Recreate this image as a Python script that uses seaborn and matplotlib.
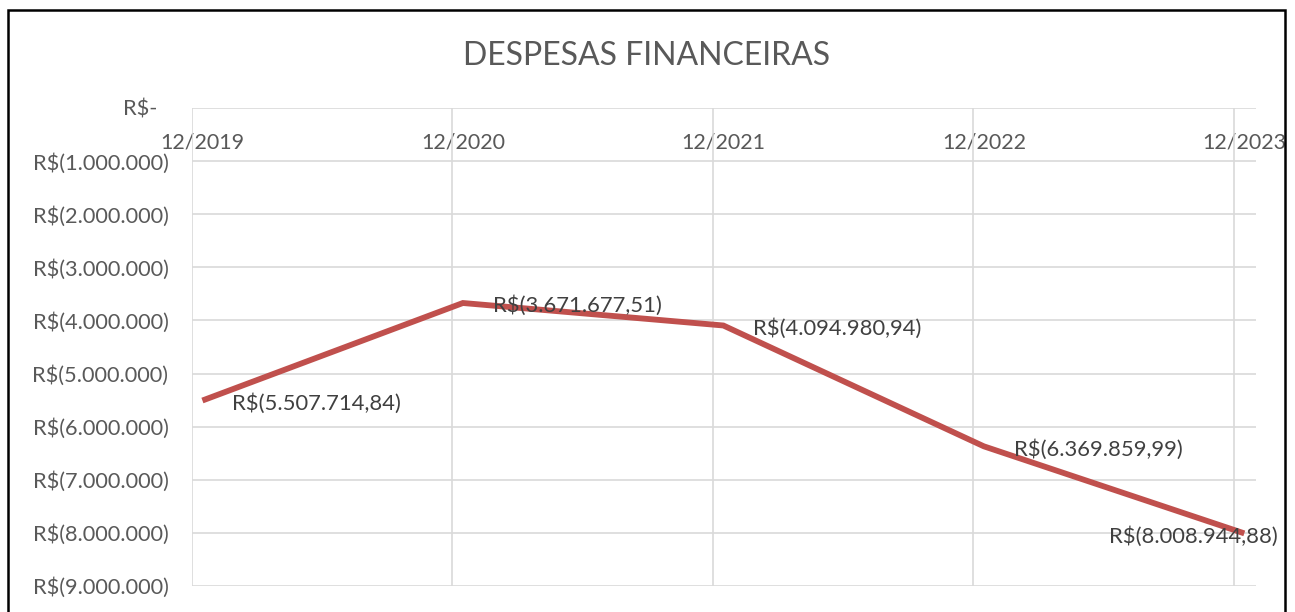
import matplotlib
matplotlib.use("Agg")
import matplotlib.pyplot as plt
import matplotlib.patches as mpatches
import seaborn as sns
import pandas as pd
import numpy as np
from matplotlib.ticker import FuncFormatter, FixedLocator

categories = ["12/2019", "12/2020", "12/2021", "12/2022", "12/2023"]
values = [-5507714.84, -3671677.51, -4094980.94, -6369859.99, -8008944.88]
title = "DESPESAS FINANCEIRAS"

sns.set_style("white")
plt.rcParams['font.family'] = ['Lato', 'DejaVu Sans']

def brl(v, decimals=2):
    if abs(v) < 0.5:
        return "R$-  "
    s = f"{abs(v):,.{decimals}f}"
    s = s.replace(",", "X").replace(".", ",").replace("X", ".")
    return f"R$({s})" if v < 0 else f"R${s}"

df = pd.DataFrame({"x": np.arange(len(categories)), "v": values})

fig = plt.figure(figsize=(12.95, 6.12), dpi=100)
ax = fig.add_axes([192/1295, 1-586/612, (1256-192)/1295, (586-108)/612])

sns.lineplot(data=df, x="x", y="v", ax=ax, color="#C0504D", linewidth=4.2,
             solid_joinstyle="miter", solid_capstyle="butt")

ax.set_xlim(-0.04, 4.045)
ax.set_ylim(-9_000_000, 0)

grid_c = "#D9D9D9"
ax.yaxis.set_major_locator(FixedLocator(np.arange(-9_000_000, 1, 1_000_000)))
ax.yaxis.set_major_formatter(FuncFormatter(lambda v, p: brl(v, 0)))
ax.grid(axis="y", color=grid_c, linewidth=1.2)
ax.set_axisbelow(True)

# vertical gridlines at category boundaries
ax.xaxis.set_minor_locator(FixedLocator(np.arange(len(categories)) - 0.04))
ax.grid(axis="x", which="minor", color=grid_c, linewidth=1.2)

ax.xaxis.tick_top()
ax.set_xticks(np.arange(len(categories)))
ax.set_xticklabels(categories)
ax.tick_params(axis="x", which="both", length=0, pad=-32, labelsize=15.5, labelcolor="#595959")
ax.tick_params(axis="y", length=0, pad=17, labelsize=15.7, labelcolor="#595959")
ax.set_xlabel("")
ax.set_ylabel("")
for s in ax.spines.values():
    s.set_visible(False)

# data labels
for i, v in enumerate(values):
    if i == len(values) - 1:
        ax.annotate(brl(v), (i, v), xytext=(-135, -3), textcoords="offset pixels",
                    ha="left", va="center", fontsize=15.8, color="#404040")
    else:
        ax.annotate(brl(v), (i, v), xytext=(30, -3), textcoords="offset pixels",
                    ha="left", va="center", fontsize=15.8, color="#404040")

fig.text(647/1295, 1-56/612, title, ha="center", va="center", fontsize=23, color="#595959")

# chart border
border = mpatches.Rectangle((8/1295, -0.1), (1285-8)/1295, 1.1 - 10/612,
                            transform=fig.transFigure, fill=False,
                            edgecolor="black", linewidth=1.8, clip_on=False)
fig.patches.append(border)

fig.savefig("out.png", dpi=100, facecolor="white")
